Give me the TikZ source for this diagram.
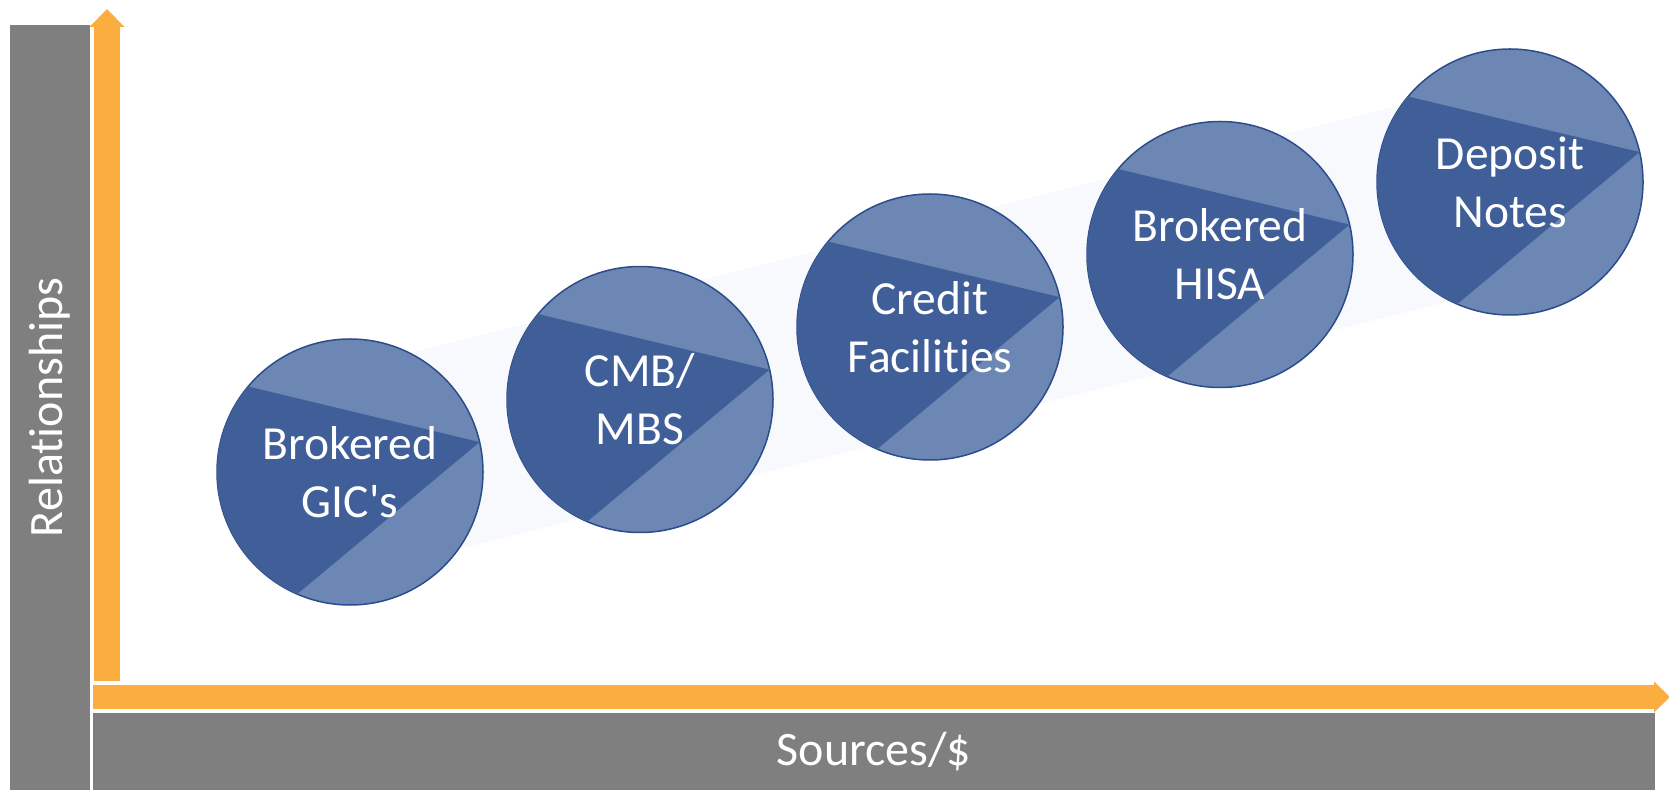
\documentclass[tikz,border=0pt]{standalone}
\usepackage{fontspec}
\setmainfont{Carlito}[Ligatures={TeX,NoCommon}]
\usetikzlibrary{arrows.meta, backgrounds}

\definecolor{barGray}{HTML}{7F7F7F}
\definecolor{axisOrange}{HTML}{FBAE3F}
\definecolor{bubbleLight}{HTML}{6C87B3}
\definecolor{bubbleDark}{HTML}{405F99}
\definecolor{bubbleEdge}{HTML}{2D4C8C}
\definecolor{bandShade}{HTML}{F7F9FC}

\begin{document}
\begin{tikzpicture}[x=1pt, y=1pt,
  bar/.style={fill=barGray, text=white, inner sep=0pt, font=\fontsize{48}{58}\selectfont},
  axis/.style={axisOrange},
  bubble/.style={circle, minimum size=266pt, inner sep=0pt, outer sep=0pt,
    fill=bubbleLight, draw=bubbleEdge, line width=1.5pt},
  bubbletext/.style={text=white, align=center, inner sep=0pt, font=\fontsize{47.5}{58}\selectfont}]
  \useasboundingbox (0,0) rectangle (1669,790);

  % grey bars with the axis names
  \node[bar, rotate=90, minimum width=765pt, minimum height=80pt] (relbar) at (50,382.5) {Relationships};
  \node[bar, minimum width=1562pt, minimum height=77pt] (srcbar) at (874,38.5) {Sources/\$};

  % orange axes
  \coordinate (ybase) at (107,109);
  \coordinate (ytip) at (107,781);
  \coordinate (xbase) at (93,93);
  \coordinate (xtip) at (1670,93);
  \draw[axis, line width=26pt, -{Triangle[width=35pt, length=18pt, line width=0pt]}] (ybase) -- (ytip);
  \draw[axis, line width=24pt, -{Triangle[width=31pt, length=16pt, line width=0pt]}] (xbase) -- (xtip);

  % funding sources
  \foreach \i/\txt in {1/{Brokered\\GIC\textquotesingle s}, 2/{CMB/\\MBS}, 3/{Credit\\Facilities},
                       4/{Brokered\\HISA}, 5/{Deposit\\Notes}}{
    \node[bubble] (b\i) at ({60+290*\i}, {245.5+72.5*\i}) {};
    \fill[bubbleDark] (b\i.13) -- (b\i.140) arc[start angle=140, end angle=246.6, radius=133pt] -- cycle;
    \node[bubbletext] (t\i) at (b\i) {\txt};
  }

  \begin{scope}[on background layer]
    \draw[bandShade, line width=202pt] (b1.center) -- (b5.center);
  \end{scope}
\end{tikzpicture}
\end{document}
